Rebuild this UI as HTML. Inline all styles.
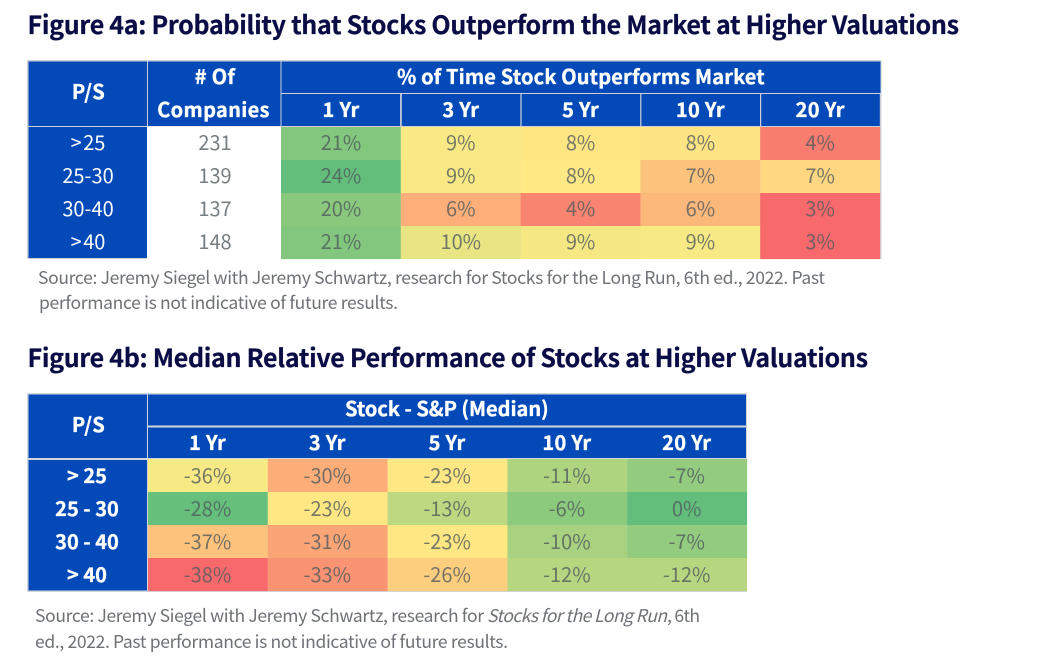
<!DOCTYPE html>
<html lang="en">
<head>
<meta charset="utf-8">
<title>Figure 4a and 4b</title>
<style>
html,body{margin:0;padding:0;background:#fff;width:1055px;height:669px;overflow:hidden}
svg{display:block;filter:blur(.35px)}
text{font-family:"Noto Sans CJK SC","Liberation Sans",sans-serif}
.title{font-size:25px;font-weight:700;fill:#0a0c45;stroke:#0a0c45;stroke-width:.25px}
.head{font-size:20px;font-weight:700;fill:#fff;stroke:#fff;stroke-width:.35px;text-anchor:middle;letter-spacing:.3px}
.row{font-size:20px;fill:#fff;text-anchor:middle;word-spacing:-3px}
.rowb{font-size:20px;font-weight:700;fill:#fff;stroke:#fff;stroke-width:.3px;text-anchor:middle}
.val{font-size:20px;fill:#4f5a5f;fill-opacity:.78;text-anchor:middle}
.src{font-size:17.5px;fill:#6e7176}
.srci{font-size:17.5px;fill:#6e7176;font-style:italic}
</style>
</head>
<body>
<svg id="chart" xmlns="http://www.w3.org/2000/svg" width="1055" height="669" viewBox="0 0 1055 669">
  <rect x="0" y="0" width="1055" height="669" fill="#fff"/>
  <text class="title" x="27.5" y="34" textLength="931.5">Figure 4a: Probability that Stocks Outperform the Market at Higher Valuations</text>
  <g id="tableA"></g>
  <text class="src" x="38" y="284" textLength="787">Source: Jeremy Siegel with Jeremy Schwartz, research for Stocks for the Long Run, 6th ed., 2022. Past</text>
  <text class="src" x="39" y="309" textLength="359">performance is not indicative of future results.</text>
  <text class="title" x="27.5" y="367" textLength="840.5">Figure 4b: Median Relative Performance of Stocks at Higher Valuations</text>
  <g id="tableB"></g>
  <text class="src" x="35" y="622" textLength="449">Source: Jeremy Siegel with Jeremy Schwartz, research for</text>
  <text class="srci" x="487" y="622" textLength="180">Stocks for the Long Run</text>
  <text class="src" x="667" y="622" textLength="33">, 6th</text>
  <text class="src" x="35" y="648" textLength="473">ed., 2022. Past performance is not indicative of future results.</text>
</svg>
<script>
const horizonLabels = ['1 Yr', '3 Yr', '5 Yr', '10 Yr', '20 Yr'];
const bandLabelsA = ['> 25', '25-30', '30-40', '> 40'];
const companyCounts = [231, 139, 137, 148];
const outperformRow1 = [20.9, 8.9, 8.0, 7.9, 3.8];
const outperformRow2 = [24.0, 8.9, 8.1, 6.6, 7.4];
const outperformRow3 = [20.0, 5.8, 4.1, 6.1, 3.0];
const outperformRow4 = [20.9, 10.4, 9.2, 9.0, 3.0];
const bandLabelsB = ['> 25', '25 - 30', '30 - 40', '> 40'];
const medianRow1 = [-36, -30, -23, -11, -7];
const medianRow2 = [-28, -23, -13, -6, 0];
const medianRow3 = [-37, -31, -23, -10, -7];
const medianRow4 = [-38, -33, -26, -12, -12];
/* The source's 1 Yr shading does not track its printed numbers; these shifts reproduce it. */
const medianShadeShift = [14.5, 27.5, 9.5, 0];

const outperformRows = [outperformRow1, outperformRow2, outperformRow3, outperformRow4];
const medianRows = [medianRow1, medianRow2, medianRow3, medianRow4];
const NS = 'http://www.w3.org/2000/svg';
const BLUE = '#034ab8';

function mix(a, b, t) {
  const k = Math.max(0, Math.min(1, t));
  return 'rgb(' + a.map((c, i) => Math.round(c + (b[i] - c) * k)).join(',') + ')';
}
function heat(v, lo, mid, hi) {
  const red = [248, 105, 107], yellow = [255, 235, 132], green = [99, 190, 123];
  return v < mid ? mix(red, yellow, (v - lo) / (mid - lo)) : mix(yellow, green, (v - mid) / (hi - mid));
}
function rect(parent, x, y, w, h, fill) {
  const r = document.createElementNS(NS, 'rect');
  r.setAttribute('x', x);
  r.setAttribute('y', y);
  r.setAttribute('width', w);
  r.setAttribute('height', h);
  r.setAttribute('fill', fill);
  parent.appendChild(r);
  return r;
}
function label(parent, x, y, str, cls) {
  const t = document.createElementNS(NS, 'text');
  t.setAttribute('x', x);
  t.setAttribute('y', y);
  t.setAttribute('class', cls);
  t.textContent = str;
  parent.appendChild(t);
  return t;
}

/* ---------- Figure 4a ---------- */
const gA = document.getElementById('tableA');
const xA = c => 281 + c * 119.8;
const yA = r => 127 + r * 33;
let el;
el = rect(gA, 27, 60, 854.5, 199, '#cfd0d6');


el = rect(gA, 28.5, 61.5, 118.5, 64.5, BLUE);


el = rect(gA, 148, 61.5, 132.5, 64.5, BLUE);


el = rect(gA, 281.5, 61.5, 599, 31.5, BLUE);


el = rect(gA, 28.5, 127, 118.5, 131, BLUE);


el = rect(gA, 147, 126.5, 134, 132.5, '#ffffff');


el = label(gA, 88.5, 99, 'P/S', 'head');


el = label(gA, 215, 84, '# Of', 'head');


el = label(gA, 213.5, 117, 'Companies', 'head');


el = label(gA, 581, 84, '% of Time Stock Outperforms Market', 'head');
el.setAttribute('textLength', '368');


horizonLabels.forEach((h, c) => {
  const hr = rect(gA, xA(c) + (c ? 1 : .5), 94, 118.6, 32, BLUE);
  
  
  const ht = label(gA, xA(c) + 60, 117, h, 'head');
  
  
});
bandLabelsA.forEach((b, r) => {
  const bt = label(gA, 88, yA(r) + 23, b, 'row');
  
  
  const ct = label(gA, 215, yA(r) + 23, companyCounts[r], 'val');
  
  
  outperformRows[r].forEach((v, c) => {
    const cell = rect(gA, xA(c), yA(r), 119.9, 33.1, heat(v, 3, 8.2, 24));
    
    
    const vt = label(gA, xA(c) + 60, yA(r) + 23, Math.round(v) + '%', 'val');
    
    
  });
});

/* ---------- Figure 4b ---------- */
const gB = document.getElementById('tableB');
const xB = c => 148 + c * 119.8;
const yB = r => 459 + r * 33;
el = rect(gB, 27, 393, 720, 199, '#d3d5dc');


el = rect(gB, 28.5, 394.5, 118.5, 63.5, BLUE);


el = rect(gB, 148, 394.5, 598, 31, BLUE);


el = rect(gB, 148, 427.5, 598, 30.5, BLUE);


el = rect(gB, 28.5, 460, 118.5, 130.5, BLUE);


el = label(gB, 88.5, 432, 'P/S', 'head');


el = label(gB, 447, 416, 'Stock - S&P (Median)', 'head');
el.setAttribute('textLength', '204');


horizonLabels.forEach((h, c) => {
  const ht = label(gB, xB(c) + 59.5, 450, h, 'head');
  
  
});
bandLabelsB.forEach((b, r) => {
  const bt = label(gB, 87, yB(r) + 24, b, 'rowb');
  
  
  medianRows[r].forEach((v, c) => {
    const shade = v + (c === 0 ? medianShadeShift[r] : 0);
    const cell = rect(gB, xB(c), yB(r), 119.9, 33.1, heat(shade, -38, -22.6, 0));
    
    
    const vt = label(gB, xB(c) + 59.5, yB(r) + 24, v + '%', 'val');
    
    
  });
});
</script>
</body>
</html>
